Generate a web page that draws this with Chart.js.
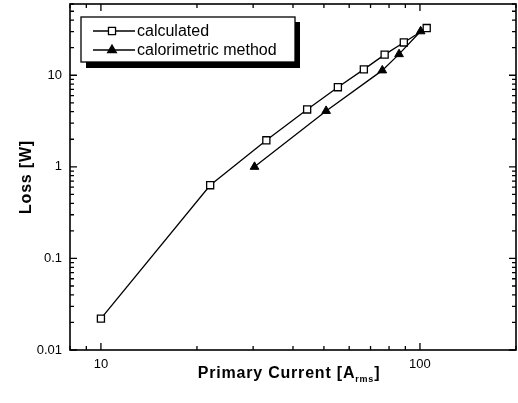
<!DOCTYPE html>
<html>
<head>
<meta charset="utf-8">
<script src="https://cdn.jsdelivr.net/npm/chart.js@4"></script>
<style>
  html, body { margin: 0; padding: 0; background: #fff; }
  #wrap { width: 518px; height: 403px; position: relative; }
</style>
</head>
<body>
<div id="wrap"><canvas id="graph"></canvas></div>
<script>
// values
const calcCurrent = [10, 22, 33, 44.3, 55.3, 66.7, 77.5, 89, 105];
const calcLoss = [0.022, 0.63, 1.95, 4.23, 7.4, 11.6, 16.8, 22.8, 32.8];
const caloCurrent = [30.3, 50.8, 76.2, 86, 100.5];
const caloLoss = [1.0, 4.08, 11.3, 17, 30.2];
const xTickLabels = [10, 100];
const yTickLabels = [0.01, 0.1, 1, 10];
const seriesNames = ['calculated', 'calorimetric method'];

const toPoints = (xs, ys) => xs.map((x, i) => ({ x: x, y: ys[i] }));

// inward ticks on all four sides, frame, titles and legend box
const framePlugin = {
    id: 'frame',
    afterDraw(chart) {
        const c = chart.ctx;
        const a = chart.chartArea;
        const xs = chart.scales.x, ys = chart.scales.y;
        c.save();
        c.strokeStyle = '#000';
        c.lineWidth = 1.6;
        c.strokeRect(a.left, a.top, a.right - a.left, a.bottom - a.top);

        c.lineWidth = 1.3;
        const ticksFor = (scale) => {
            const out = [];
            const d0 = Math.floor(Math.log10(scale.min));
            const d1 = Math.ceil(Math.log10(scale.max));
            for (let d = d0; d <= d1; d++) {
                for (let k = 1; k <= 9; k++) {
                    const v = k * Math.pow(10, d);
                    if (v >= scale.min * 0.999 && v <= scale.max * 1.001) {
                        out.push({ p: scale.getPixelForValue(v), major: k === 1 });
                    }
                }
            }
            return out;
        };
        c.beginPath();
        ticksFor(xs).forEach(t => {
            const len = t.major ? 7 : 4;
            c.moveTo(t.p, a.bottom); c.lineTo(t.p, a.bottom - len);
            c.moveTo(t.p, a.top); c.lineTo(t.p, a.top + len);
        });
        ticksFor(ys).forEach(t => {
            const len = t.major ? 7 : 4;
            c.moveTo(a.left, t.p); c.lineTo(a.left + len, t.p);
            c.moveTo(a.right, t.p); c.lineTo(a.right - len, t.p);
        });
        c.stroke();

        // axis titles
        c.fillStyle = '#000';
        c.letterSpacing = '0.8px';
        c.textBaseline = 'alphabetic';
        const main = 'Primary Current [A';
        c.font = 'bold 16px "Liberation Sans", Arial, sans-serif';
        const w1 = c.measureText(main).width;
        c.font = 'bold 9px "Liberation Sans", Arial, sans-serif';
        const w2 = c.measureText('rms').width;
        c.font = 'bold 16px "Liberation Sans", Arial, sans-serif';
        const w3 = c.measureText(']').width;
        let x0 = (a.left + a.right) / 2 - (w1 + w2 + w3) / 2 - 4;
        c.textAlign = 'left';
        c.fillText(main, x0, 378);
        c.font = 'bold 9px "Liberation Sans", Arial, sans-serif';
        c.fillText('rms', x0 + w1, 382);
        c.font = 'bold 16px "Liberation Sans", Arial, sans-serif';
        c.fillText(']', x0 + w1 + w2, 378);

        c.save();
        c.translate(31, (a.top + a.bottom) / 2);
        c.rotate(-Math.PI / 2);
        c.textAlign = 'center';
        c.fillText('Loss [W]', 0, 0);
        c.restore();

        // legend with shadow
        const bx = 81, by = 17, bw = 214, bh = 45;
        c.fillStyle = '#000';
        c.fillRect(bx + 5, by + 5, bw, bh + 1);
        c.fillStyle = '#fff';
        c.fillRect(bx, by, bw, bh);
        c.lineWidth = 1.3;
        c.strokeRect(bx, by, bw, bh);

        c.letterSpacing = '0px';
        c.font = '16px "Liberation Sans", Arial, sans-serif';
        c.textBaseline = 'middle';
        c.textAlign = 'left';
        const rows = [31, 50];
        chart.data.datasets.forEach((ds, i) => {
            const y = rows[i];
            c.strokeStyle = '#000';
            c.lineWidth = 1.3;
            c.beginPath();
            c.moveTo(93, y); c.lineTo(135, y);
            c.stroke();
            c.fillStyle = ds.pointBackgroundColor;
            c.strokeStyle = ds.pointBorderColor;
            Chart.helpers.drawPoint(c, {
                pointStyle: ds.pointStyle,
                radius: ds.pointRadius,
                borderWidth: ds.pointBorderWidth
            }, 112, y);
            c.fillStyle = '#000';
            c.fillText(ds.label, 137, y + 1);
        });
        c.restore();
    }
};

const ctx = document.getElementById('graph').getContext('2d');

const chart = new Chart(ctx, {
    type: 'scatter',
    data: {
        datasets: [{
            label: seriesNames[0],
            data: toPoints(calcCurrent, calcLoss),
            showLine: true,
            borderColor: '#000',
            borderWidth: 1.3,
            pointStyle: 'rect',
            pointRadius: 5,
            pointBorderWidth: 1.3,
            pointBackgroundColor: '#fff',
            pointBorderColor: '#000',
            order: 1
        }, {
            label: seriesNames[1],
            data: toPoints(caloCurrent, caloLoss),
            showLine: true,
            borderColor: '#000',
            borderWidth: 1.3,
            pointStyle: 'triangle',
            pointRadius: 5,
            pointBorderWidth: 1,
            pointBackgroundColor: '#000',
            pointBorderColor: '#000',
            order: 0
        }]
    },
    options: {
        responsive: true,
        maintainAspectRatio: false,
        animation: false,
        layout: { autoPadding: false, padding: { top: 4, right: 2, left: 0, bottom: 0 } },
        plugins: {
            legend: { display: false },
            tooltip: { enabled: false }
        },
        scales: {
            x: {
                type: 'logarithmic',
                min: 8,
                max: 200,
                afterBuildTicks: (s) => { s.ticks = xTickLabels.map(v => ({ value: v })); },
                afterFit: (s) => { s.height = 53; s.paddingLeft = 0; s.paddingRight = 0; },
                grid: { display: false, drawTicks: false },
                border: { display: false },
                ticks: {
                    padding: 7,
                    color: '#000',
                    maxRotation: 0,
                    font: { family: '"Liberation Sans", Arial, sans-serif', size: 13 },
                    callback: (v) => String(v)
                }
            },
            y: {
                type: 'logarithmic',
                min: 0.01,
                max: 60,
                afterBuildTicks: (s) => { s.ticks = yTickLabels.map(v => ({ value: v })); },
                afterFit: (s) => { s.width = 70; s.paddingTop = 0; s.paddingBottom = 0; },
                grid: { display: false, drawTicks: false },
                border: { display: false },
                ticks: {
                    padding: 8,
                    color: '#000',
                    font: { family: '"Liberation Sans", Arial, sans-serif', size: 13 },
                    callback: (v) => String(v)
                }
            }
        }
    },
    plugins: [framePlugin]
});
</script>
</body>
</html>
